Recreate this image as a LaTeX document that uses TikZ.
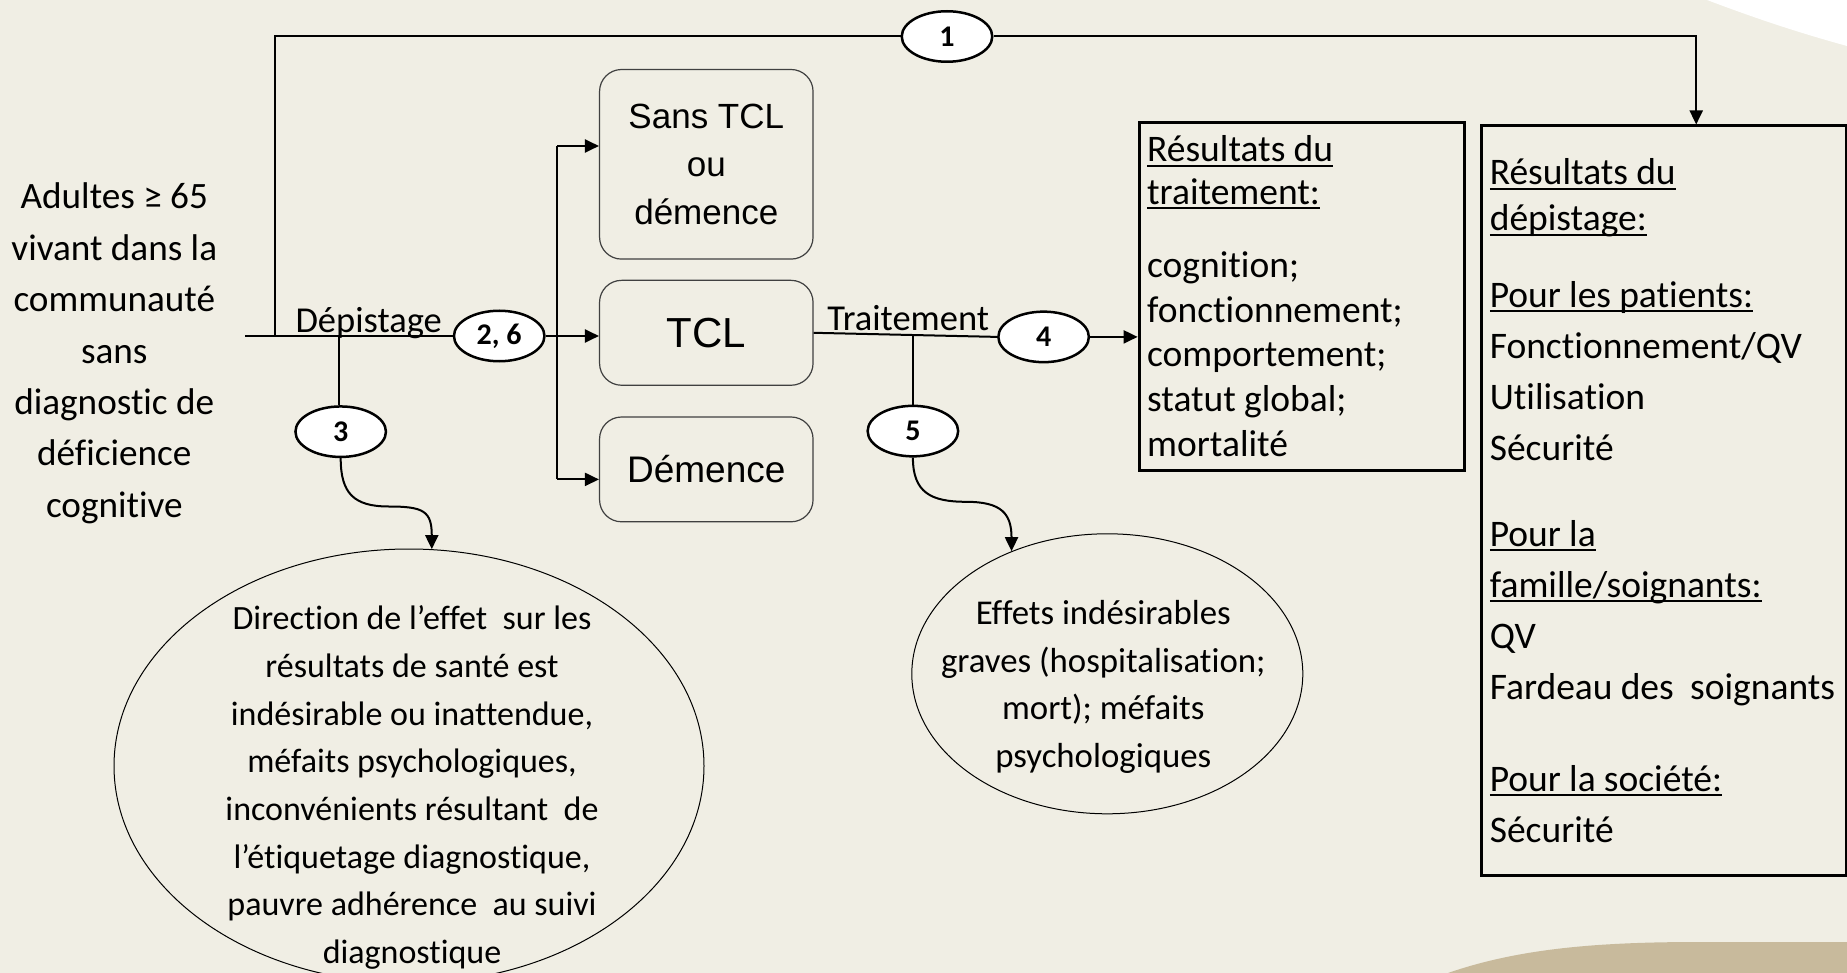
\documentclass[tikz,border=0pt]{standalone}
\usepackage{fontspec}
\setmainfont{Carlito}[Ligatures=NoCommon]
\newfontfamily\arialf{Liberation Sans}
\usetikzlibrary{shapes.geometric,arrows.meta,calc}
\definecolor{bgc}{RGB}{240,238,228}
\definecolor{tanc}{RGB}{200,186,156}
\newcommand\ulx[1]{\leavevmode\setbox0\hbox{#1}\rlap{\rule[-5pt]{\wd0}{1.8pt}}\box0}
\newcommand\fsz[2]{\fontsize{#1}{#2}\selectfont}
\newcommand\tsp{\spaceskip=8.2pt\relax}
\begin{document}
\begin{tikzpicture}[x=1pt,y=-1pt,
  conn/.style={line width=2pt},
  arr/.style={conn,-{Triangle[length=14pt,width=13pt]}},
  num/.style={ellipse,draw,fill=white,line width=2.5pt,minimum width=90.5pt,minimum height=50.5pt,inner sep=0pt,font=\fsz{30}{32}\bfseries},
  rbox/.style={draw=black!75,line width=1.2pt,rounded corners=22pt,minimum width=213.5pt,align=center,inner sep=0pt},
  resbox/.style={draw,line width=3pt,align=left,inner xsep=8pt,inner ysep=0pt},
  oval/.style={ellipse,draw,line width=1pt,inner sep=0pt},
  lbl/.style={font=\fsz{36.5}{44},anchor=base,inner sep=0pt}]
\fill[bgc] (0,0) rectangle (1847,973);
\fill[white] (1707,0) .. controls (1760,20) and (1800,33) .. (1847,46) -- (1847,0) -- cycle;
\fill[tanc] (1448,973) .. controls (1520,948) and (1600,942) .. (1700,942) -- (1847,942) -- (1847,973) -- cycle;
\useasboundingbox (0,0) rectangle (1847,973);

% left population
\node[align=center,font=\fsz{37.2}{51.4},inner sep=0pt] (pop) at (114.3,353.3) {Adultes ≥ 65\\vivant dans la\\communauté\\sans\\diagnostic de\\déficience\\cognitive};

% number ellipses
\node[num] (e1) at (947,36.5) {1};
\node[num] (e26) at (499.2,336) {2, 6};
\node[num] (e3) at (340.7,431.7) {3};
\node[num] (e4) at (1043.6,336.9) {4};
\node[num] (e5) at (912.9,431.1) {5};

% rounded boxes
\node[rbox,minimum height=189.6pt,font=\arialf\fsz{35}{47.7}] (box1) at (706.3,164.3) {Sans TCL\\ou\\démence};
\node[rbox,minimum height=104.9pt,font=\arialf\fsz{42}{48}] (tcl) at (706.3,332.8) {TCL};
\node[rbox,minimum height=104.8pt,font=\arialf\fsz{37}{44}] (box3) at (706.3,469.4) {Démence};

% result boxes
\node[resbox,text width=309pt,minimum height=347.5pt,font=\fsz{37.5}{44.8}] (tbox) at (1301.65,296.25)
 {\tsp\ulx{Résultats du}\\[-2.4pt]\ulx{traitement:}\\[28.2pt]cognition;\\fonctionnement;\\comportement;\\statut global;\\mortalité};
\node[resbox,text width=348.2pt,minimum height=749.2pt,font=\fsz{37.5}{51}] (scr) at (1663.9,500.6)
 {\tsp\ulx{Résultats du}\\[-5pt]\ulx{dépistage:}\\[25.6pt]\ulx{Pour les patients:}\\Fonctionnement/QV\\Utilisation\\Sécurité\\[35pt]\ulx{Pour la}\\\ulx{famille/soignants:}\\QV\\\mbox{Fardeau des\ \ soignants}\\[41pt]\ulx{Pour la société:}\\Sécurité};

% harm ellipses
\node[oval,minimum width=590pt,minimum height=434pt] (big) at (409,766) {};
\node[align=center,font=\fsz{34}{47.7},inner sep=0pt] (bigtxt) at (412,787.5)
 {Direction de l’effet\ \ sur les\\résultats de santé est\\indésirable ou inattendue,\\méfaits psychologiques,\\inconvénients résultant\ \ de\\l’étiquetage diagnostique,\\pauvre adhérence\ \ au suivi\\diagnostique};
\node[oval,minimum width=391pt,minimum height=280pt] (small) at (1107.3,673.8) {};
\node[align=center,font=\fsz{34.8}{47.5},inner sep=0pt] (smalltxt) at (1103.3,686.8)
 {Effets indésirables\\graves (hospitalisation;\\mort); méfaits\\psychologiques};

% labels
\node[lbl] (ldep) at (368.7,333) {Dépistage};
\node[lbl] (ltrt) at (908.2,331) {Traitement};

% connectors
\coordinate (m0) at (245,336);
\coordinate (v1) at (274.5,336);
\coordinate (v3) at (339,336);
\coordinate (t1) at (1696.2,124.5);
\coordinate (b1) at (557.2,146);
\coordinate (b2) at (557.2,479.4);
\draw[conn] (m0) -- (e26.west);
\draw[conn] (v1) |- (e1.west);
\draw[arr] (e1.east) -| (t1);
\draw[conn] (v3) -- (v3 |- e3.north);
\draw[arr] (e26.east) -- (e26.east -| tcl.west);
\draw[conn] (b1) -- (b2);
\draw[arr] (b1) -- (b1 -| box1.west);
\draw[arr] (b2) -- (b2 -| box3.west);
\draw[conn] (tcl.east) -- (e4.west);
\coordinate (v5) at ($(tcl.east)!0.543!(e4.west)$);
\draw[conn] (v5) -- (v5 |- e5.north);
\draw[arr] (e4.east) -- (e4.east -| tbox.west);
\coordinate (c3) at (388.7,506.5);
\draw[arr] (e3.south) .. controls +(0,35) and +(-35,0) .. (c3) .. controls +(35,0) and +(0,-38) .. (big.84);
\coordinate (c5) at (966,501.8);
\draw[arr] (e5.south) .. controls +(0,35) and +(-35,0) .. (c5) .. controls +(35,0) and +(0,-38) .. (small.128);
\end{tikzpicture}
\end{document}
